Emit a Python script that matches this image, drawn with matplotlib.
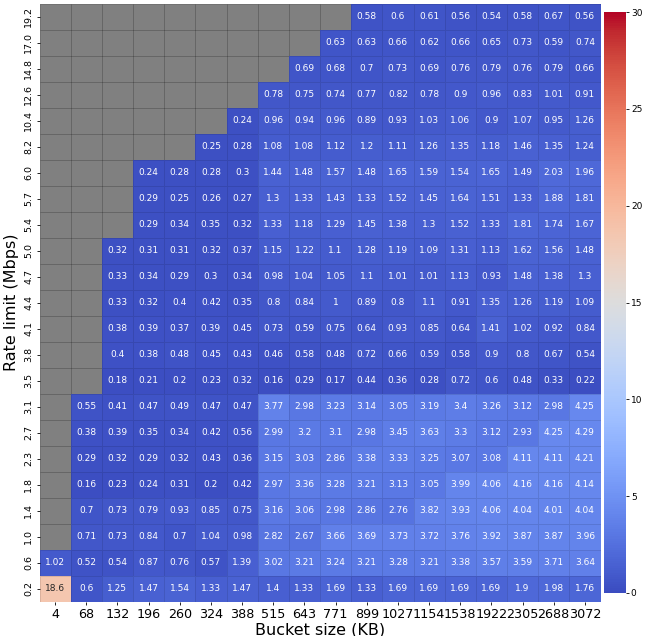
import numpy as np
import matplotlib
matplotlib.use("Agg")
import matplotlib.pyplot as plt
import seaborn as sns

nan = np.nan

# Ejes
bucket_sizes = [4, 68, 132, 196, 260, 324, 388, 515, 643, 771, 899, 1027,
                1154, 1538, 1922, 2305, 2688, 3072]
rate_limits = ["19.2", "17.0", "14.8", "12.6", "10.4", "8.2", "6.0", "5.7",
               "5.4", "5.0", "4.7", "4.4", "4.1", "3.8", "3.5", "3.1", "2.7",
               "2.3", "1.8", "1.4", "1.0", "0.6", "0.2"]

# Valores por fila (de arriba a abajo)
r19_2 = [nan]*10 + [0.58, 0.6, 0.61, 0.56, 0.54, 0.58, 0.67, 0.56]
r17_0 = [nan]*9 + [0.63, 0.63, 0.66, 0.62, 0.66, 0.65, 0.73, 0.59, 0.74]
r14_8 = [nan]*8 + [0.69, 0.68, 0.7, 0.73, 0.69, 0.76, 0.79, 0.76, 0.79, 0.66]
r12_6 = [nan]*7 + [0.78, 0.75, 0.74, 0.77, 0.82, 0.78, 0.9, 0.96, 0.83, 1.01, 0.91]
r10_4 = [nan]*6 + [0.24, 0.96, 0.94, 0.96, 0.89, 0.93, 1.03, 1.06, 0.9, 1.07, 0.95, 1.26]
r8_2 = [nan]*5 + [0.25, 0.28, 1.08, 1.08, 1.12, 1.2, 1.11, 1.26, 1.35, 1.18, 1.46, 1.35, 1.24]
r6_0 = [nan]*3 + [0.24, 0.28, 0.28, 0.3, 1.44, 1.48, 1.57, 1.48, 1.65, 1.59, 1.54, 1.65, 1.49, 2.03, 1.96]
r5_7 = [nan]*3 + [0.29, 0.25, 0.26, 0.27, 1.3, 1.33, 1.43, 1.33, 1.52, 1.45, 1.64, 1.51, 1.33, 1.88, 1.81]
r5_4 = [nan]*3 + [0.29, 0.34, 0.35, 0.32, 1.33, 1.18, 1.29, 1.45, 1.38, 1.3, 1.52, 1.33, 1.81, 1.74, 1.67]
r5_0 = [nan]*2 + [0.32, 0.31, 0.31, 0.32, 0.37, 1.15, 1.22, 1.1, 1.28, 1.19, 1.09, 1.31, 1.13, 1.62, 1.56, 1.48]
r4_7 = [nan]*2 + [0.33, 0.34, 0.29, 0.3, 0.34, 0.98, 1.04, 1.05, 1.1, 1.01, 1.01, 1.13, 0.93, 1.48, 1.38, 1.3]
r4_4 = [nan]*2 + [0.33, 0.32, 0.4, 0.42, 0.35, 0.8, 0.84, 1, 0.89, 0.8, 1.1, 0.91, 1.35, 1.26, 1.19, 1.09]
r4_1 = [nan]*2 + [0.38, 0.39, 0.37, 0.39, 0.45, 0.73, 0.59, 0.75, 0.64, 0.93, 0.85, 0.64, 1.41, 1.02, 0.92, 0.84]
r3_8 = [nan]*2 + [0.4, 0.38, 0.48, 0.45, 0.43, 0.46, 0.58, 0.48, 0.72, 0.66, 0.59, 0.58, 0.9, 0.8, 0.67, 0.54]
r3_5 = [nan]*2 + [0.18, 0.21, 0.2, 0.23, 0.32, 0.16, 0.29, 0.17, 0.44, 0.36, 0.28, 0.72, 0.6, 0.48, 0.33, 0.22]
r3_1 = [nan] + [0.55, 0.41, 0.47, 0.49, 0.47, 0.47, 3.77, 2.98, 3.23, 3.14, 3.05, 3.19, 3.4, 3.26, 3.12, 2.98, 4.25]
r2_7 = [nan] + [0.38, 0.39, 0.35, 0.34, 0.42, 0.56, 2.99, 3.2, 3.1, 2.98, 3.45, 3.63, 3.3, 3.12, 2.93, 4.25, 4.29]
r2_3 = [nan] + [0.29, 0.32, 0.29, 0.32, 0.43, 0.36, 3.15, 3.03, 2.86, 3.38, 3.33, 3.25, 3.07, 3.08, 4.11, 4.11, 4.21]
r1_8 = [nan] + [0.16, 0.23, 0.24, 0.31, 0.2, 0.42, 2.97, 3.36, 3.28, 3.21, 3.13, 3.05, 3.99, 4.06, 4.16, 4.16, 4.14]
r1_4 = [nan] + [0.7, 0.73, 0.79, 0.93, 0.85, 0.75, 3.16, 3.06, 2.98, 2.86, 2.76, 3.82, 3.93, 4.06, 4.04, 4.01, 4.04]
r1_0 = [nan] + [0.71, 0.73, 0.84, 0.7, 1.04, 0.98, 2.82, 2.67, 3.66, 3.69, 3.73, 3.72, 3.76, 3.92, 3.87, 3.87, 3.96]
r0_6 = [1.02, 0.52, 0.54, 0.87, 0.76, 0.57, 1.39, 3.02, 3.21, 3.24, 3.21, 3.28, 3.21, 3.38, 3.57, 3.59, 3.71, 3.64]
r0_2 = [18.6, 0.6, 1.25, 1.47, 1.54, 1.33, 1.47, 1.4, 1.33, 1.69, 1.33, 1.69, 1.69, 1.69, 1.69, 1.9, 1.98, 1.76]

filas = [r19_2, r17_0, r14_8, r12_6, r10_4, r8_2, r6_0, r5_7, r5_4, r5_0, r4_7,
         r4_4, r4_1, r3_8, r3_5, r3_1, r2_7, r2_3, r1_8, r1_4, r1_0, r0_6, r0_2]
datos = np.array(filas, dtype=float)

''' FIGURA '''
W, H = 646, 636
fig = plt.figure(figsize=(W / 100, H / 100), dpi=100)
ax = fig.add_axes([39.5 / W, 1 - 601.5 / H, (600.5 - 39.5) / W, (601.5 - 3.5) / H])
cax = fig.add_axes([604 / W, 1 - 593 / H, 22 / W, (593 - 12) / H])

ax.set_facecolor("gray")
sns.heatmap(datos, ax=ax, cbar_ax=cax, cmap="coolwarm", vmin=0, vmax=30,
            annot=True, fmt="g", annot_kws={"size": 6.5},
            linewidths=0.5, linecolor=(0, 0, 0, 0.1),
            xticklabels=bucket_sizes, yticklabels=rate_limits)

ax.set_xticklabels(bucket_sizes, rotation=0, fontsize=9.2)
ax.set_yticklabels(rate_limits, rotation=90, fontsize=6.8, va="center")
ax.tick_params(axis="both", length=2.5, width=0.6, pad=2)
ax.set_xlabel("Bucket size (KB)", fontsize=11.5, labelpad=1)
ax.set_ylabel("Rate limit (Mbps)", fontsize=11.5, labelpad=4)

cax.tick_params(labelsize=6.5, length=2.5, width=0.6, pad=1)
cax.set_yticks([0, 5, 10, 15, 20, 25, 30])

fig.savefig("out.png", dpi=100, facecolor="white")
plt.close()
